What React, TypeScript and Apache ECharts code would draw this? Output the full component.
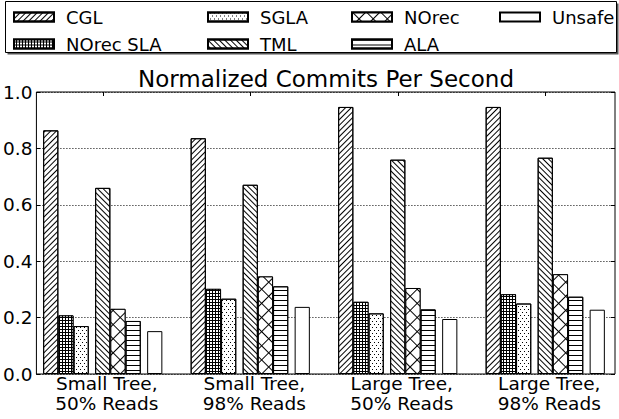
import React, { useEffect, useRef } from "react";
import * as echarts from "echarts";

const categories = [
  "Small Tree,\n50% Reads",
  "Small Tree,\n98% Reads",
  "Large Tree,\n50% Reads",
  "Large Tree,\n98% Reads",
];
const cgl = [0.864, 0.836, 0.947, 0.947];
const norecSla = [0.208, 0.302, 0.256, 0.283];
const sgla = [0.17, 0.267, 0.215, 0.25];
const tml = [0.66, 0.671, 0.76, 0.767];
const norec = [0.231, 0.346, 0.305, 0.354];
const ala = [0.188, 0.311, 0.229, 0.274];
const unsafe = [0.152, 0.238, 0.195, 0.228];
const yTicks = [0, 0.2, 0.4, 0.6, 0.8, 1.0];
const legendColumns = [
  ["CGL", "NOrec SLA"],
  ["SGLA", "TML"],
  ["NOrec", "ALA"],
  ["Unsafe"],
];
const chartTitle = "Normalized Commits Per Second";

const FONT = "DejaVu Sans";
const BAR_W = 15.2;
const GAP_W = 6.4;
const legendLeft = [13, 207, 351, 499];

const decals: Record<string, any> = {
  CGL: { symbol: "rect", symbolSize: 1, color: "#000", dashArrayX: [1, 0], dashArrayY: [1, 2.2], rotation: -Math.PI / 4 },
  "NOrec SLA": { symbol: "rect", symbolSize: 1, color: "#fff", dashArrayX: [2, 1], dashArrayY: [2, 1], rotation: 0 },
  SGLA: { symbol: "rect", symbolSize: 1, color: "#000", dashArrayX: [[1, 3], [0, 2, 1, 1]], dashArrayY: [1, 2], rotation: 0 },
  TML: { symbol: "rect", symbolSize: 1, color: "#000", dashArrayX: [1, 0], dashArrayY: [1, 2.2], rotation: Math.PI / 4 },
  NOrec: { symbol: "rect", symbolSize: 1, color: "#fff", dashArrayX: [9, 1], dashArrayY: [9, 1], rotation: Math.PI / 4 },
  ALA: { symbol: "rect", symbolSize: 1, color: "#000", dashArrayX: [1, 0], dashArrayY: [1, 4], rotation: 0 },
};
const fills: Record<string, string> = {
  CGL: "#fff",
  "NOrec SLA": "#000",
  SGLA: "#fff",
  TML: "#fff",
  NOrec: "#000",
  ALA: "#fff",
  Unsafe: "#fff",
};

function barSeries(name: string, data: number[]) {
  return {
    type: "bar",
    name,
    data,
    xAxisIndex: 0,
    yAxisIndex: 0,
    barWidth: BAR_W,
    barGap: "0%",
    silent: true,
    itemStyle: {
      color: fills[name],
      borderColor: "#000",
      borderWidth: 1,
      decal: decals[name],
    },
  };
}

function gapSeries(name: string) {
  return {
    type: "bar",
    name,
    data: categories.map(() => null),
    xAxisIndex: 0,
    yAxisIndex: 0,
    barWidth: GAP_W,
    barGap: "0%",
    silent: true,
  };
}

export default function App() {
  const ref = useRef<HTMLDivElement>(null);
  useEffect(() => {
    if (!ref.current) return;
    const chart = echarts.init(ref.current, null, { renderer: "svg" });
    const yMin = yTicks[0];
    const yMax = yTicks[yTicks.length - 1];
    const yInt = yTicks[1] - yTicks[0];
    chart.setOption({
      animation: false,
      backgroundColor: "#fff",
      title: {
        text: chartTitle,
        left: 326,
        top: 67,
        padding: 0,
        textAlign: "center",
        textStyle: { fontSize: 23, fontWeight: "normal", color: "#000", fontFamily: FONT },
      },
      graphic: [
        { type: "rect", z: 0, shape: { x: 7.5, y: 3.5, width: 611, height: 51 }, style: { fill: "#555" } },
        { type: "rect", z: 1, shape: { x: 5.5, y: 1.5, width: 611, height: 51 }, style: { fill: "#fff", stroke: "#000", lineWidth: 1 } },
      ],
      legend: legendColumns.map((col, i) => ({
        data: col,
        orient: "vertical",
        left: legendLeft[i],
        top: 8,
        padding: 0,
        itemWidth: 40,
        itemHeight: 9,
        itemGap: 9,
        icon: "rect",
        selectedMode: false,
        textStyle: { fontSize: 18, color: "#000", fontFamily: FONT, padding: [0, 0, 0, 7] },
      })),
      grid: [
        { left: 29, top: 92, width: 595, height: 282 },
        { left: 36, top: 92, width: 579, height: 282, show: true, borderColor: "#000", borderWidth: 1, backgroundColor: "transparent" },
      ],
      xAxis: [
        {
          gridIndex: 0,
          type: "category",
          data: categories,
          position: "bottom",
          axisLine: { show: false },
          axisTick: { show: false },
          axisLabel: {
            interval: 0,
            fontSize: 18.5,
            lineHeight: 19.5,
            color: "#000",
            fontFamily: FONT,
            margin: 0,
            padding: [0, 0, 0, 8],
          },
        },
        {
          gridIndex: 0,
          type: "category",
          data: categories,
          position: "top",
          axisLine: { show: false },
          axisTick: { show: true, inside: true, length: 4, alignWithLabel: true, lineStyle: { color: "#000" } },
          axisLabel: { show: false },
        },
        { gridIndex: 1, type: "value", min: 0, max: 1, show: false },
      ],
      yAxis: [
        { gridIndex: 0, type: "value", min: yMin, max: yMax, show: false },
        {
          gridIndex: 1,
          type: "value",
          min: yMin,
          max: yMax,
          interval: yInt,
          position: "left",
          axisLine: { show: false },
          axisTick: { show: true, inside: true, length: 4, lineStyle: { color: "#000" } },
          axisLabel: {
            formatter: (v: number) => v.toFixed(1),
            fontSize: 18.5,
            color: "#000",
            fontFamily: FONT,
            margin: 4,
          },
          splitLine: { show: true, lineStyle: { color: "#000", type: [1, 2], width: 1 } },
        },
        {
          gridIndex: 1,
          type: "value",
          min: yMin,
          max: yMax,
          interval: yInt,
          position: "right",
          axisLine: { show: false },
          axisTick: { show: true, inside: true, length: 4, lineStyle: { color: "#000" } },
          axisLabel: { show: false },
          splitLine: { show: false },
        },
      ],
      series: [
        barSeries("CGL", cgl),
        barSeries("NOrec SLA", norecSla),
        barSeries("SGLA", sgla),
        gapSeries("_gap1"),
        barSeries("TML", tml),
        barSeries("NOrec", norec),
        barSeries("ALA", ala),
        gapSeries("_gap2"),
        barSeries("Unsafe", unsafe),
      ],
    });
    return () => chart.dispose();
  }, []);
  return (
    <div
      ref={ref}
      style={{ position: "fixed", left: 0, top: 0, width: 619, height: 419 }}
    />
  );
}
